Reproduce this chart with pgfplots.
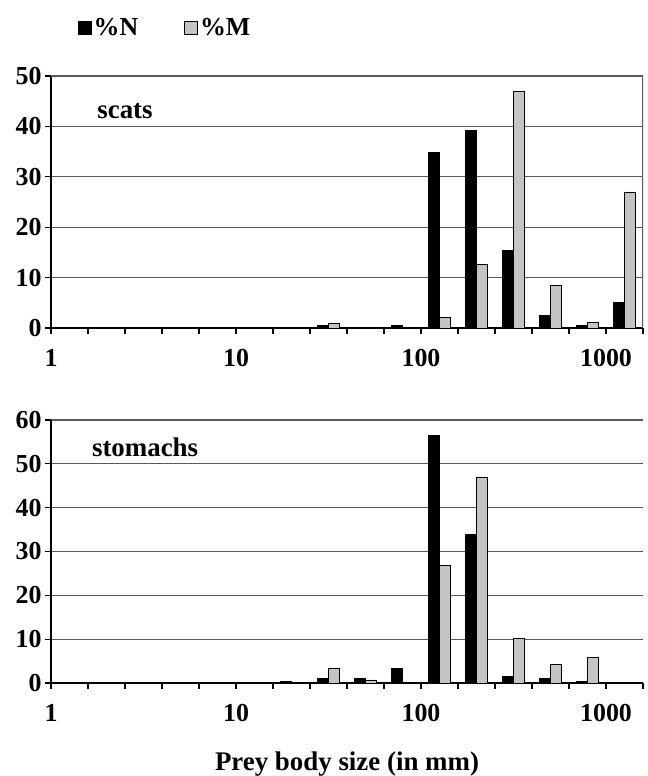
\documentclass[border=0pt]{standalone}
\usepackage{pgfplots}
\pgfplotsset{compat=1.18}
\usepackage{pgfplotstable}
\usepackage{fontspec}
\setmainfont{Liberation Serif}
\definecolor{barfill}{HTML}{C4C4C4}
\definecolor{gridc}{HTML}{5A5A5A}

% bin index (each bin spans one log step of 10^(1/5)), centre = index + 0.5
\pgfplotstableread{
x    y
7.5  0.5
9.5  0.5
10.5 34.8
11.5 39.2
12.5 15.4
13.5 2.5
14.5 0.5
15.5 5.1
}\scatsN
\pgfplotstableread{
x    y
7.5  1.0
10.5 2.1
11.5 12.6
12.5 46.9
13.5 8.4
14.5 1.1
15.5 27.0
}\scatsM
\pgfplotstableread{
x    y
6.5  0.3
7.5  1.0
8.5  1.0
9.5  3.4
10.5 56.4
11.5 33.9
12.5 1.4
13.5 1.0
14.5 0.3
}\stomN
\pgfplotstableread{
x    y
7.5  3.4
8.5  0.7
10.5 26.9
11.5 47.0
12.5 10.2
13.5 4.3
14.5 5.9
}\stomM

\begin{document}
\begin{tikzpicture}
\useasboundingbox (0bp,0bp) rectangle (648bp,776bp);
\pgfplotsset{
  panel/.style={
    scale only axis, width=592bp,
    xmin=0, xmax=16,
    axis x line*=bottom, axis y line*=left,
    xtick={0,5,10,15}, xticklabels={1,10,100,1000},
    minor xtick={1,2,3,4,6,7,8,9,11,12,13,14,16},
    tick align=outside,
    major tick length=6bp, minor tick length=6bp,
    every tick/.style={black, line width=1.3bp},
    every minor tick/.style={black, line width=1.3bp},
    ymin=0, ymajorgrids,
    grid style={draw=gridc, line width=1.2bp},
    axis line style={black, line width=1.5bp},
    tick label style={font=\fontsize{26}{26}\selectfont\bfseries},
    xticklabel style={yshift=-12bp},
    /pgf/number format/assume math mode=true,
    ybar=0pt, bar width=0.3,
  },
  nbar/.style={fill=black, draw=black, line width=0.8bp},
  mbar/.style={fill=barfill, draw=black, line width=0.8bp},
}
% top panel: scats
\begin{axis}[panel,
  at={(51bp,448bp)}, anchor=south west, height=252bp,
  ymax=50, ytick={0,10,20,30,40,50},
  legend style={at={(0.045,1.19)}, anchor=west, draw=none, fill=none,
    font=\fontsize{26}{26}\selectfont\bfseries,
    legend columns=2, /tikz/every even column/.append style={column sep=44bp},
    inner sep=0pt},
  legend image code/.code={\draw[#1] (0bp,-6.5bp) rectangle (13bp,6.5bp);},
]
\addplot[nbar] table[x=x,y=y] {\scatsN};
\addplot[mbar] table[x=x,y=y] {\scatsM};
\legend{\%N,\%M}
\draw[gridc, line width=1.2bp] (rel axis cs:0,1) -- (rel axis cs:1,1) -- (rel axis cs:1,0);
\node[anchor=base west, inner sep=0pt, font=\fontsize{27}{27}\selectfont\bfseries]
  at (rel axis cs:0.078,0.833) {scats};
\end{axis}
% bottom panel: stomachs
\begin{axis}[panel,
  at={(51bp,93bp)}, anchor=south west, height=263bp,
  ymax=60, ytick={0,10,20,30,40,50,60},
  xlabel={Prey body size (in mm)},
  xlabel style={font=\fontsize{27}{27}\selectfont\bfseries,
    at={(axis description cs:0.5,0)}, anchor=base, yshift=-87bp},
]
\addplot[nbar] table[x=x,y=y] {\stomN};
\addplot[mbar] table[x=x,y=y] {\stomM};
\node[anchor=base west, inner sep=0pt, font=\fontsize{27}{27}\selectfont\bfseries]
  at (rel axis cs:0.069,0.8605) {stomachs};
\end{axis}
\end{tikzpicture}
\end{document}
